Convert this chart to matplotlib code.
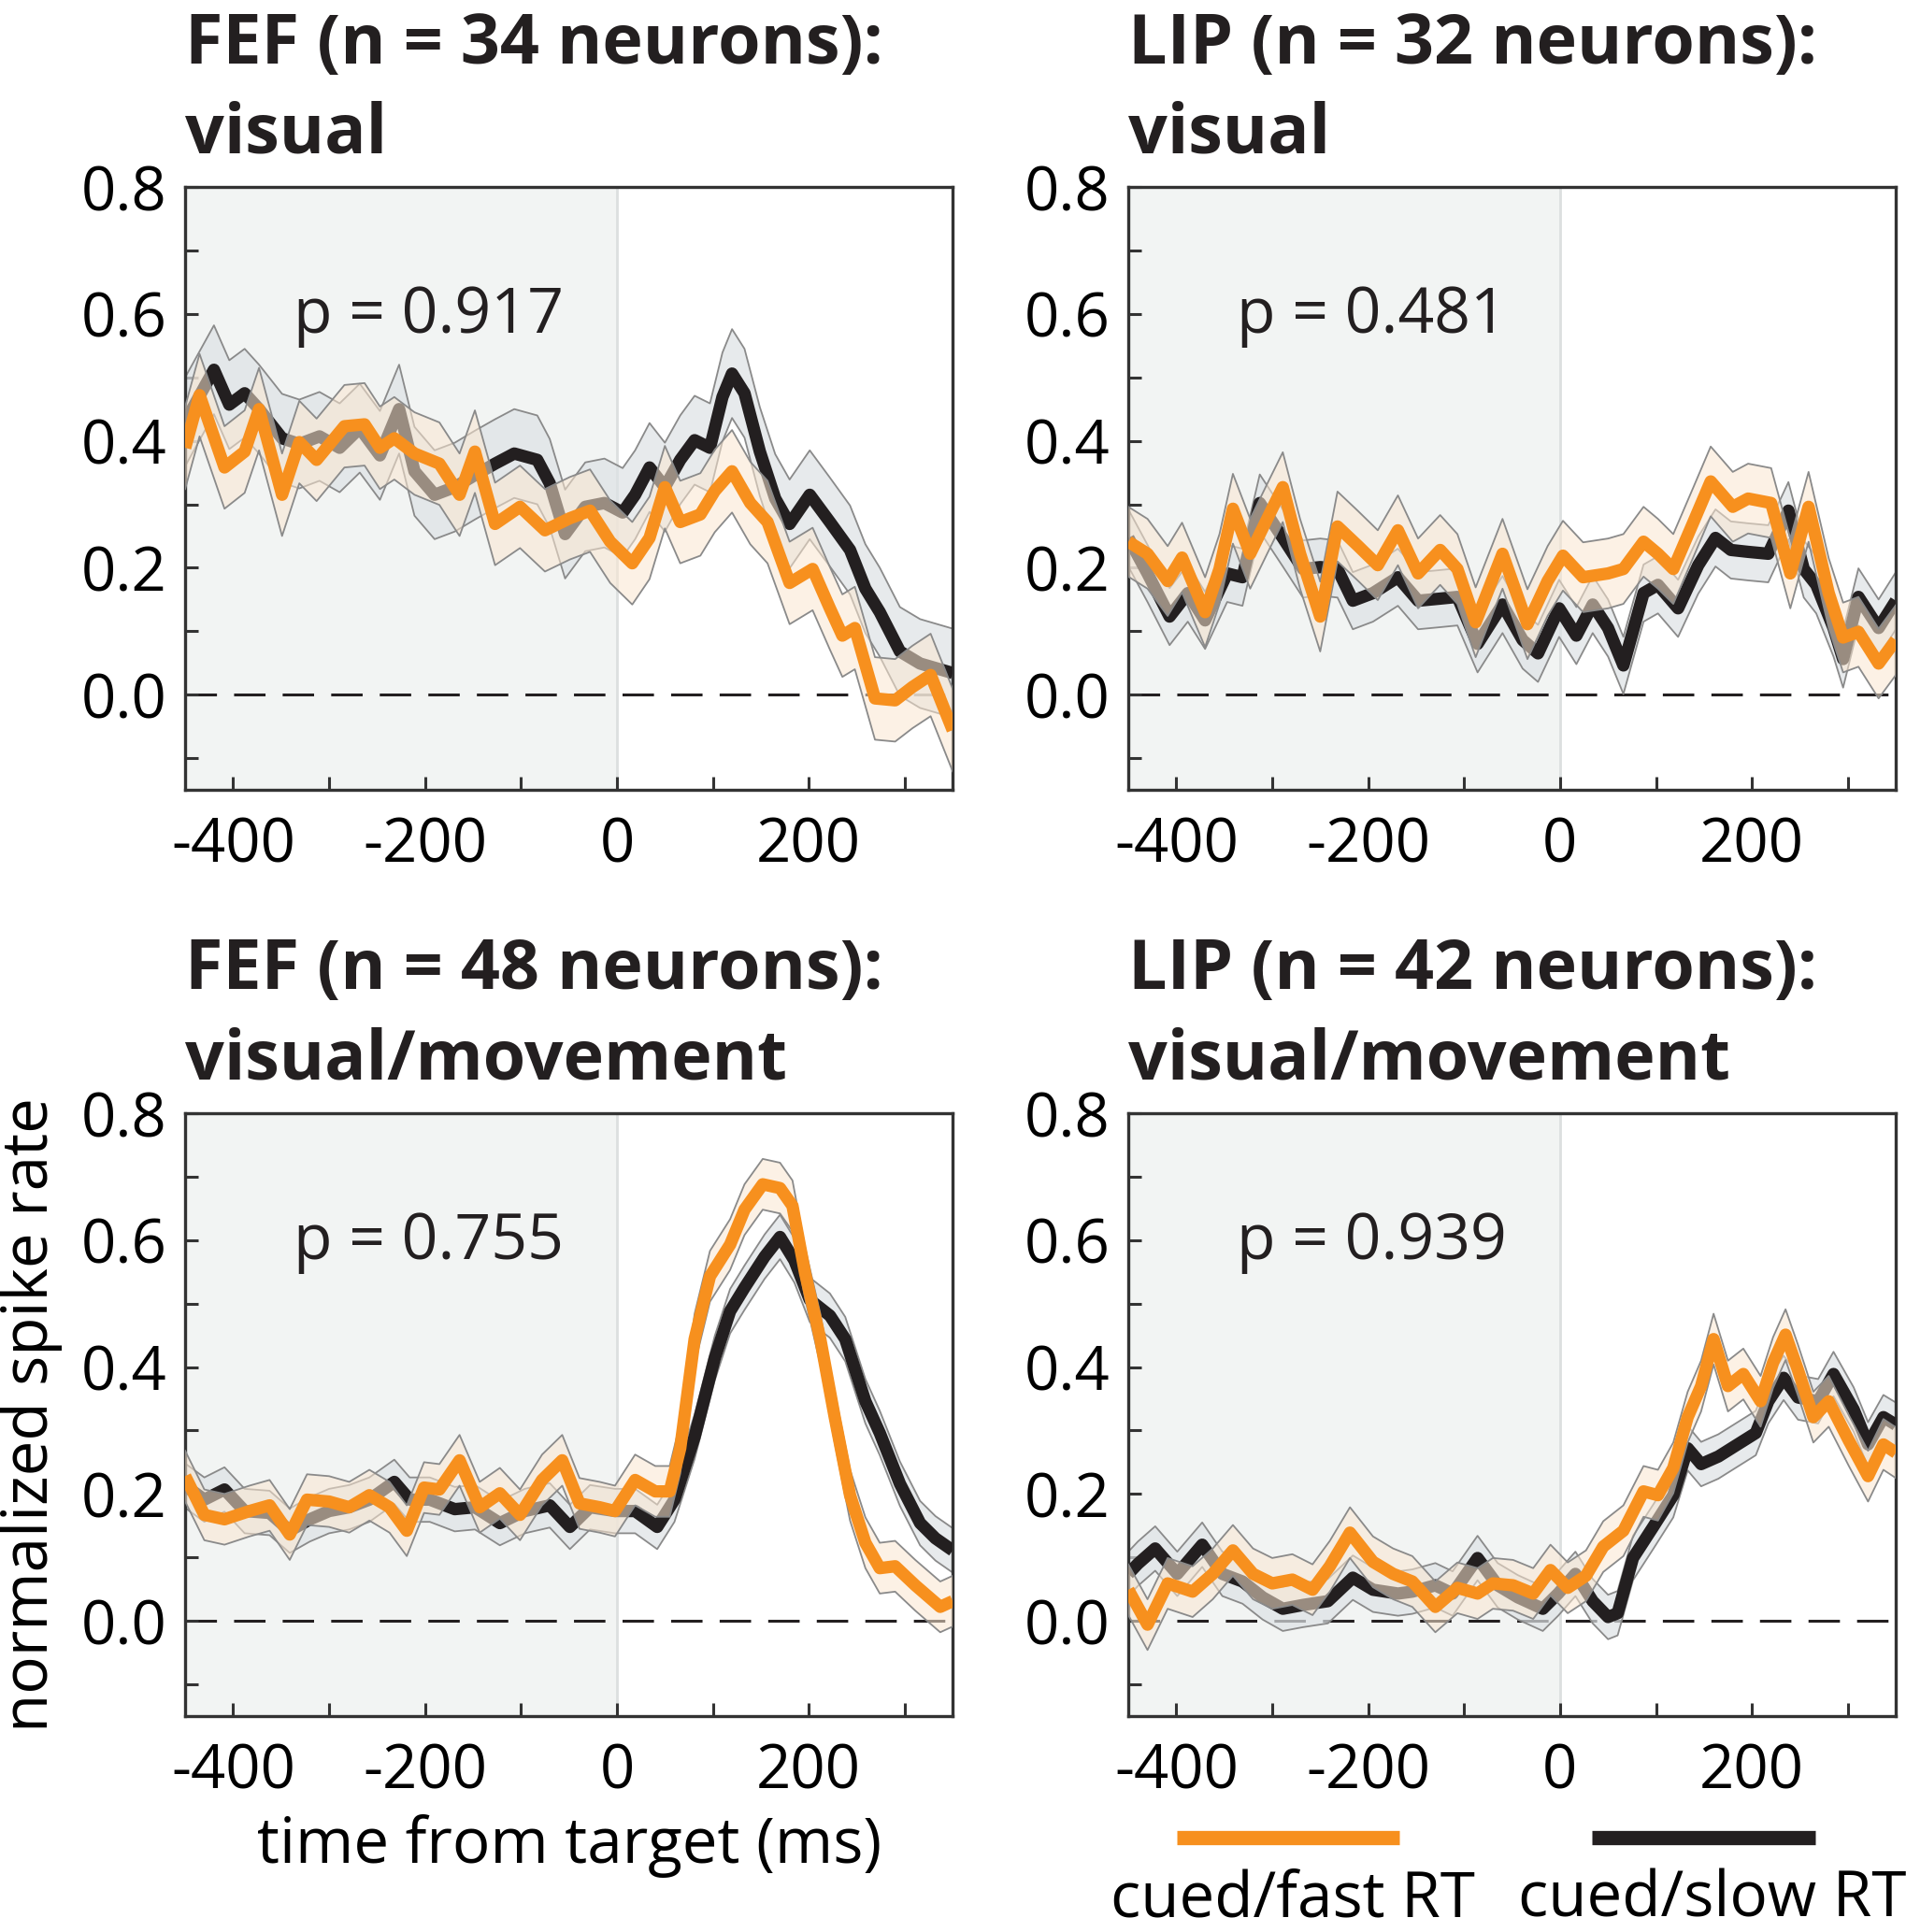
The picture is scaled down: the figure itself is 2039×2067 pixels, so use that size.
import matplotlib
matplotlib.use("Agg")
import matplotlib.pyplot as plt
from matplotlib.lines import Line2D
import numpy as np

plt.rcParams['font.family'] = ['Open Sans', 'DejaVu Sans']
plt.rcParams['axes.unicode_minus'] = False

ORANGE = '#f7901e'
BLACK = '#231f20'

# ---- panel titles / p values ----
titles = ['FEF (n = 34 neurons):\nvisual', 'LIP (n = 32 neurons):\nvisual',
          'FEF (n = 48 neurons):\nvisual/movement', 'LIP (n = 42 neurons):\nvisual/movement']
pvals = ['p = 0.917', 'p = 0.481', 'p = 0.755', 'p = 0.939']

# ---- FEF visual ----
fef_vis_t_fast = [-450, -435, -409, -388, -373, -349, -331, -313, -284, -263, -247, -232, -211, -185, -164, -148,
                  -127, -101, -75, -49, -28, -7, 16, 34, 50, 66, 87, 102, 120, 139, 157, 180, 204, 222, 235, 248,
                  269, 290, 308, 327, 350]
fef_vis_fast = [0.389, 0.472, 0.358, 0.383, 0.45, 0.315, 0.398, 0.37, 0.423, 0.426, 0.389, 0.404, 0.38, 0.364, 0.315,
                0.383, 0.269, 0.296, 0.259, 0.278, 0.29, 0.241, 0.207, 0.247, 0.327, 0.272, 0.284, 0.321, 0.352,
                0.302, 0.272, 0.176, 0.198, 0.136, 0.093, 0.105, -0.006, -0.009, 0.012, 0.031, -0.056]
fef_vis_t_slow = [-450, -420, -404, -388, -373, -349, -331, -310, -289, -268, -247, -227, -211, -190, -169, -148,
                  -127, -107, -83, -70, -54, -33, -13, 6, 19, 34, 50, 66, 81, 97, 110, 120, 133, 149, 165, 180,
                  201, 222, 243, 259, 274, 295, 316, 350]
fef_vis_slow = [0.43, 0.512, 0.457, 0.475, 0.45, 0.404, 0.395, 0.407, 0.389, 0.42, 0.377, 0.45, 0.352, 0.315, 0.327,
                0.346, 0.364, 0.38, 0.37, 0.333, 0.253, 0.296, 0.302, 0.287, 0.315, 0.358, 0.327, 0.37, 0.401,
                0.389, 0.469, 0.506, 0.475, 0.383, 0.309, 0.269, 0.315, 0.272, 0.228, 0.167, 0.13, 0.068, 0.049,
                0.034]

# ---- LIP visual ----
lip_vis_t_fast = [-450, -430, -409, -394, -370, -355, -341, -323, -305, -289, -271, -250, -232, -211, -190, -169,
                  -148, -125, -107, -88, -60, -34, -13, 3, 24, 50, 66, 87, 102, 118, 139, 157, 180, 196, 220, 240,
                  259, 280, 295, 311, 332, 350]
lip_vis_fast = [0.241, 0.222, 0.179, 0.216, 0.13, 0.198, 0.293, 0.222, 0.278, 0.327, 0.222, 0.123, 0.265, 0.235,
                0.204, 0.259, 0.191, 0.228, 0.198, 0.114, 0.222, 0.111, 0.179, 0.219, 0.185, 0.191, 0.198, 0.241,
                0.222, 0.198, 0.272, 0.336, 0.296, 0.309, 0.302, 0.191, 0.296, 0.16, 0.09, 0.099, 0.049, 0.086]
lip_vis_t_slow = [-450, -430, -407, -388, -370, -347, -331, -313, -289, -268, -250, -232, -216, -195, -169, -148,
                  -127, -107, -86, -60, -39, -23, -1, 17, 34, 50, 66, 87, 102, 123, 144, 162, 178, 196, 217, 238,
                  254, 267, 285, 295, 311, 332, 350]
lip_vis_slow = [0.247, 0.191, 0.123, 0.16, 0.117, 0.191, 0.185, 0.302, 0.247, 0.198, 0.201, 0.198, 0.148, 0.16,
                0.185, 0.148, 0.151, 0.154, 0.08, 0.142, 0.086, 0.065, 0.136, 0.093, 0.142, 0.105, 0.046, 0.16,
                0.173, 0.136, 0.204, 0.247, 0.228, 0.225, 0.222, 0.29, 0.198, 0.173, 0.105, 0.056, 0.154, 0.105,
                0.148]

# ---- FEF visual/movement ----
fef_vm_t_fast = [-450, -430, -409, -383, -362, -341, -323, -300, -279, -258, -237, -219, -201, -185, -164, -143,
                 -122, -101, -78, -57, -39, -18, -2, 19, 40, 55, 66, 81, 97, 118, 133, 152, 170, 183, 196, 212, 227,
                 243, 259, 274, 290, 311, 337, 350]
fef_vm_fast = [0.228, 0.167, 0.16, 0.173, 0.182, 0.136, 0.191, 0.188, 0.179, 0.198, 0.179, 0.142, 0.21, 0.207,
               0.253, 0.179, 0.201, 0.167, 0.222, 0.253, 0.185, 0.179, 0.173, 0.222, 0.204, 0.204, 0.272, 0.444,
               0.543, 0.593, 0.648, 0.688, 0.682, 0.654, 0.549, 0.444, 0.321, 0.198, 0.123, 0.083, 0.086, 0.056,
               0.022, 0.031]
fef_vm_t_slow = [-450, -430, -409, -388, -362, -341, -320, -300, -279, -258, -232, -216, -195, -169, -148, -122,
                 -96, -70, -49, -28, -2, 19, 42, 60, 81, 102, 118, 133, 154, 170, 185, 201, 222, 238, 259, 274, 295,
                 316, 332, 350]
fef_vm_slow = [0.213, 0.191, 0.207, 0.173, 0.17, 0.142, 0.16, 0.173, 0.179, 0.191, 0.219, 0.191, 0.191, 0.176,
               0.179, 0.154, 0.173, 0.182, 0.148, 0.179, 0.173, 0.173, 0.148, 0.191, 0.29, 0.414, 0.488, 0.525,
               0.574, 0.605, 0.568, 0.506, 0.481, 0.444, 0.346, 0.296, 0.216, 0.154, 0.13, 0.111]

# ---- LIP visual/movement ----
lip_vm_t_fast = [-450, -430, -409, -383, -362, -341, -320, -300, -279, -258, -240, -219, -195, -174, -154, -130,
                 -107, -86, -70, -49, -28, -10, 8, 27, 45, 66, 87, 102, 118, 133, 147, 160, 175, 191, 209, 222, 235,
                 248, 264, 280, 301, 321, 337, 350]
lip_vm_fast = [0.049, -0.006, 0.059, 0.046, 0.074, 0.111, 0.074, 0.059, 0.065, 0.049, 0.086, 0.139, 0.093, 0.074,
               0.062, 0.022, 0.052, 0.043, 0.059, 0.056, 0.043, 0.08, 0.052, 0.071, 0.117, 0.142, 0.204, 0.198,
               0.241, 0.321, 0.37, 0.444, 0.37, 0.389, 0.346, 0.407, 0.451, 0.395, 0.321, 0.346, 0.284, 0.228,
               0.278, 0.265]
lip_vm_t_slow = [-450, -440, -422, -399, -373, -352, -331, -310, -289, -268, -242, -216, -195, -169, -154, -130,
                 -112, -86, -65, -44, -18, -2, 16, 34, 50, 60, 76, 97, 118, 133, 147, 165, 185, 204, 217, 233, 248,
                 269, 285, 306, 321, 337, 350]
lip_vm_slow = [0.074, 0.09, 0.114, 0.074, 0.12, 0.074, 0.062, 0.037, 0.019, 0.025, 0.031, 0.068, 0.049, 0.043,
               0.046, 0.056, 0.043, 0.099, 0.056, 0.037, 0.019, 0.043, 0.074, 0.031, 0.006, 0.012, 0.099, 0.148,
               0.198, 0.272, 0.247, 0.259, 0.278, 0.296, 0.346, 0.383, 0.352, 0.346, 0.389, 0.333, 0.278, 0.321,
               0.309]

# standard error widths (fast, slow) per panel
sem = [(0.065, 0.07), (0.055, 0.045), (0.04, 0.035), (0.04, 0.035)]

panels = [
    (fef_vis_t_fast, fef_vis_fast, fef_vis_t_slow, fef_vis_slow),
    (lip_vis_t_fast, lip_vis_fast, lip_vis_t_slow, lip_vis_slow),
    (fef_vm_t_fast, fef_vm_fast, fef_vm_t_slow, fef_vm_slow),
    (lip_vm_t_fast, lip_vm_fast, lip_vm_t_slow, lip_vm_slow),
]

fig = plt.figure(figsize=(20.4, 20.67), dpi=100)
lefts = [0.0971, 0.5917]
bottoms = [0.5912, 0.1118]
w, h = 0.4025, 0.312

for i, (tf, yf, ts, ys) in enumerate(panels):
    ax = fig.add_axes([lefts[i % 2], bottoms[i // 2], w, h])
    ax.axvspan(-450, 0, color='#f2f4f3', zorder=0, lw=0)
    ax.axvline(0, color='#dcdfdf', lw=2, zorder=0.5)
    ax.axhline(0, color=BLACK, lw=2.2, linestyle=(0, (11, 6)), zorder=1)

    tf, yf, ts, ys = map(np.array, (tf, yf, ts, ys))
    sf, ss = sem[i]
    # slow (black) first, fast (orange) on top
    ax.fill_between(ts, ys - ss, ys + ss, facecolor='#dde2e5', alpha=0.7, edgecolor='none', zorder=2)
    ax.plot(ts, ys + ss, color='#8a8a8a', lw=1.3, zorder=2.1)
    ax.plot(ts, ys - ss, color='#8a8a8a', lw=1.3, zorder=2.1)
    ax.plot(ts, ys, color=BLACK, lw=9.5, zorder=3, solid_capstyle='butt', solid_joinstyle='round')
    ax.fill_between(tf, yf - sf, yf + sf, facecolor='#fbe7d1', alpha=0.55, edgecolor='none', zorder=4)
    ax.plot(tf, yf + sf, color='#8a8a8a', lw=1.3, zorder=4.1)
    ax.plot(tf, yf - sf, color='#8a8a8a', lw=1.3, zorder=4.1)
    ax.plot(tf, yf, color=ORANGE, lw=9.5, zorder=5, solid_capstyle='butt', solid_joinstyle='round')

    ax.set_xlim(-450, 350)
    ax.set_ylim(-0.15, 0.8)
    ax.set_xticks([-400, -200, 0, 200])
    ax.set_xticks([-300, -100, 100, 300], minor=True)
    ax.set_yticks([0.0, 0.2, 0.4, 0.6, 0.8])
    ax.set_yticklabels(['0.0', '0.2', '0.4', '0.6', '0.8'])
    ax.set_yticks([-0.1, 0.1, 0.3, 0.5, 0.7], minor=True)
    ax.tick_params(which='both', direction='in', length=10, width=2.2, color='#333333',
                   labelsize=47, top=False, right=False)
    ax.tick_params(axis='y', which='major', pad=14)
    ax.tick_params(axis='x', which='major', pad=20)
    for sp in ax.spines.values():
        sp.set_linewidth(2.4)
        sp.set_color('#333333')

    ax.text(-337, 0.57, pvals[i], fontsize=49, color=BLACK, va='baseline', ha='left', zorder=6)
    ax.set_title(titles[i], loc='left', fontsize=53, fontweight='bold', color=BLACK,
                 linespacing=1.4, pad=26)

    if i == 2:
        ax.set_xlabel('time from target (ms)', fontsize=48.5, labelpad=8)
        ax.set_ylabel('normalized spike rate', fontsize=48.5, labelpad=14)

# legend drawn as figure-level lines
fig.add_artist(Line2D([0.617, 0.734], [0.0489, 0.0489], color=ORANGE, lw=11, solid_capstyle='butt',
                      transform=fig.transFigure))
fig.add_artist(Line2D([0.835, 0.952], [0.0489, 0.0489], color=BLACK, lw=11, solid_capstyle='butt',
                      transform=fig.transFigure))
fig.text(0.678, 0.008, 'cued/fast RT', fontsize=48.5, ha='center', va='baseline')
fig.text(0.898, 0.008, 'cued/slow RT', fontsize=48.5, ha='center', va='baseline')

fig.savefig('out.png', dpi=100)
